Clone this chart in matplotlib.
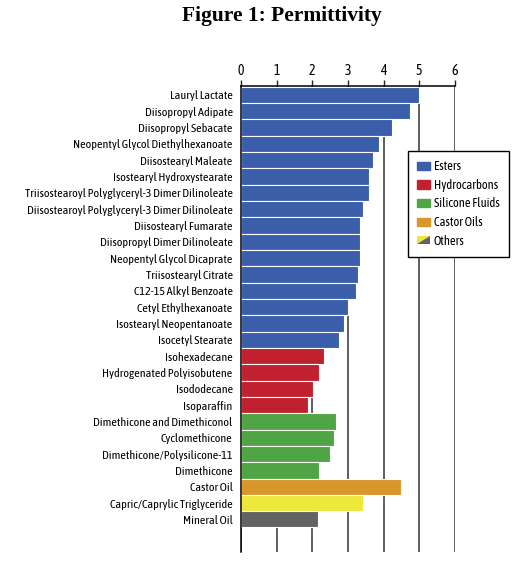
import matplotlib.pyplot as plt
import numpy as np
from matplotlib.patches import Patch, Polygon
from matplotlib.legend_handler import HandlerBase

# permittivity values, top to bottom
names = [
    "Lauryl Lactate", "Diisopropyl Adipate", "Diisopropyl Sebacate",
    "Neopentyl Glycol Diethylhexanoate", "Diisostearyl Maleate",
    "Isostearyl Hydroxystearate", "Triisostearoyl Polyglyceryl-3 Dimer Dilinoleate",
    "Diisostearoyl Polyglyceryl-3 Dimer Dilinoleate", "Diisostearyl Fumarate",
    "Diisopropyl Dimer Dilinoleate", "Neopentyl Glycol Dicaprate",
    "Triisostearyl Citrate", "C12-15 Alkyl Benzoate", "Cetyl Ethylhexanoate",
    "Isostearyl Neopentanoate", "Isocetyl Stearate",
    "Isohexadecane", "Hydrogenated Polyisobutene", "Isododecane", "Isoparaffin",
    "Dimethicone and Dimethiconol", "Cyclomethicone", "Dimethicone/Polysilicone-11",
    "Dimethicone",
    "Castor Oil",
    "Capric/Caprylic Triglyceride", "Mineral Oil",
]
values = [5.00, 4.75, 4.24, 3.86, 3.71, 3.58, 3.58, 3.43, 3.33, 3.33, 3.33,
          3.27, 3.23, 3.00, 2.90, 2.76,
          2.32, 2.20, 2.01, 1.89,
          2.66, 2.61, 2.50, 2.20,
          4.50,
          3.42, 2.17]
groups = ["Esters"] * 16 + ["Hydrocarbons"] * 4 + ["Silicone Fluids"] * 4 + \
         ["Castor Oils"] + ["Others yellow", "Others grey"]

colors = {
    "Esters": "#3a5ea9",
    "Hydrocarbons": "#c1202e",
    "Silicone Fluids": "#4fa443",
    "Castor Oils": "#d8962b",
    "Others yellow": "#ede83a",
    "Others grey": "#636363",
}
legend_labels = ["Esters", "Hydrocarbons", "Silicone Fluids", "Castor Oils", "Others"]

plt.rcParams['font.family'] = ['Asap Condensed', 'Liberation Sans', 'DejaVu Sans']


class HandlerSplit(HandlerBase):
    # square split on the diagonal: yellow top-left, grey bottom-right
    def create_artists(self, legend, orig_handle, xdescent, ydescent,
                       width, height, fontsize, trans):
        x0, y0 = -xdescent, -ydescent
        upper = Polygon([[x0, y0], [x0, y0 + height], [x0 + width, y0 + height]],
                        closed=True, facecolor=colors["Others yellow"], edgecolor='none',
                        transform=trans)
        lower = Polygon([[x0, y0], [x0 + width, y0], [x0 + width, y0 + height]],
                        closed=True, facecolor=colors["Others grey"], edgecolor='none',
                        transform=trans)
        return [upper, lower]


fig = plt.figure(figsize=(5.32, 5.80), dpi=100)
ax = fig.add_axes([0.453, 0.0483, 0.402, 0.8034])

y = np.arange(len(names))
ax.barh(y, values, height=1.0, color=[colors[g] for g in groups],
        edgecolor='white', linewidth=0.8, zorder=2)

ax.set_xlim(0, 6)
ax.set_ylim(28.0, -0.54)
ax.set_xticks(range(7))
ax.xaxis.tick_top()
ax.tick_params(axis='x', direction='out', length=4, width=1.0, color='#222222',
               labelsize=10, pad=2)
ax.set_yticks(y)
ax.set_yticklabels(names)
ax.tick_params(axis='y', length=0, labelsize=8.7, pad=6)

ax.grid(axis='x', color='#333333', linewidth=1.1, zorder=0)
ax.set_axisbelow(True)
for s in ['right', 'bottom']:
    ax.spines[s].set_visible(False)
ax.spines['left'].set_linewidth(1.1)
ax.spines['top'].set_linewidth(1.1)

handles = [Patch(color=colors[k]) for k in legend_labels[:4]] + [Patch(color='none')]
leg = fig.legend(handles, legend_labels, loc='upper left', bbox_to_anchor=(0.767, 0.740),
                 bbox_transform=fig.transFigure, borderaxespad=0, fontsize=9,
                 frameon=True, fancybox=False, edgecolor='black', framealpha=1,
                 handlelength=1.0, handleheight=0.64, handletextpad=0.3,
                 labelspacing=0.45, borderpad=0.75,
                 handler_map={handles[4]: HandlerSplit()})
leg.get_frame().set_linewidth(1.0)

fig.text(0.53, 0.972, "Figure 1: Permittivity", ha='center', va='center',
         fontsize=15.5, fontweight='bold', family='Liberation Serif')

plt.savefig("out.png", dpi=100)
